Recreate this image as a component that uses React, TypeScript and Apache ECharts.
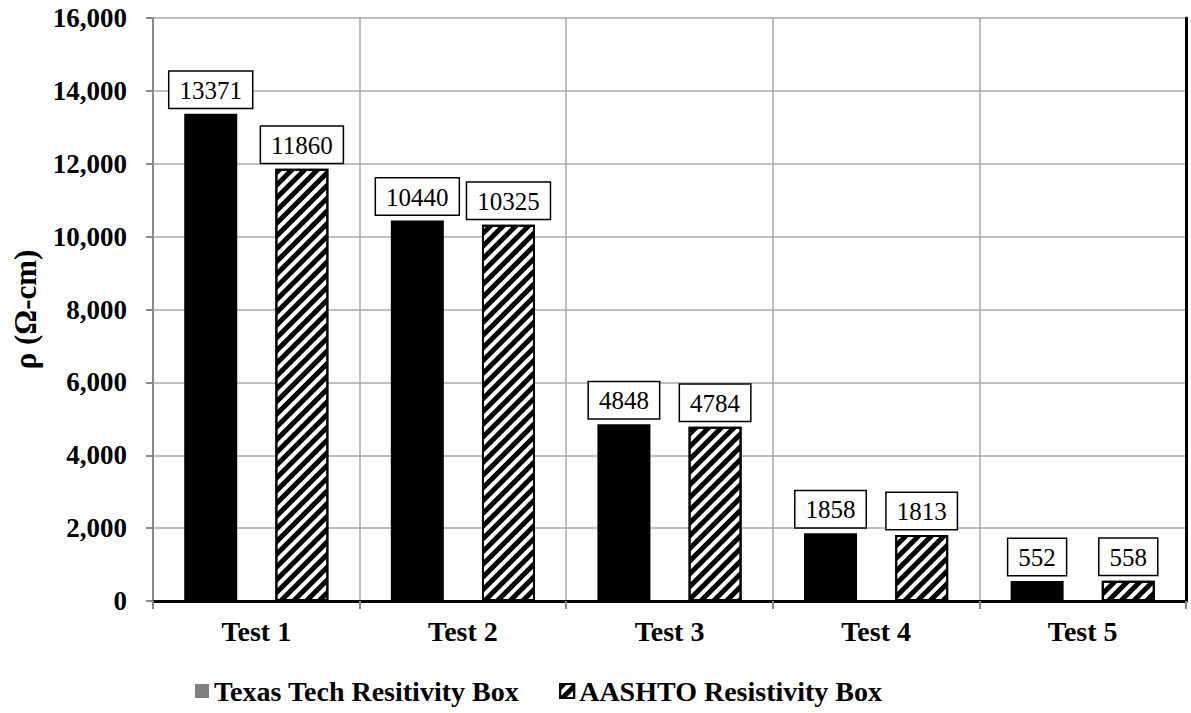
import React, { useEffect, useRef } from "react";
import * as echarts from "echarts";

const categories = ["Test 1", "Test 2", "Test 3", "Test 4", "Test 5"];
const texasTech = [13371, 10440, 4848, 1858, 552];
const aashto = [11860, 10325, 4784, 1813, 558];
const seriesNames = ["Texas Tech Resitivity Box", "AASHTO Resistivity Box"];
const yMin = 0;
const yMax = 16000;
const yInterval = 2000;

const FONT = "Liberation Serif";

export default function App() {
  const ref = useRef<HTMLDivElement>(null);
  useEffect(() => {
    if (!ref.current) return;
    const chart = echarts.init(ref.current, null, { renderer: "svg" });
    const label = {
      show: true,
      position: "top",
      distance: 6,
      fontFamily: FONT,
      fontSize: 25,
      color: "#000",
      backgroundColor: "#fff",
      borderColor: "#000",
      borderWidth: 1.5,
      padding: [6, 10, 5, 10],
      formatter: "{c}",
    };
    chart.setOption({
      animation: false,
      grid: { left: 153, right: 5, top: 18, bottom: 112, containLabel: false },
      xAxis: [
        {
          type: "category",
          data: categories,
          axisLine: { lineStyle: { color: "#888", width: 2 } },
          axisTick: { show: true, length: 8, lineStyle: { color: "#888", width: 2 } },
          splitLine: { show: true, lineStyle: { color: "#aaa", width: 1.5 } },
          axisLabel: { fontFamily: FONT, fontSize: 28, fontWeight: "bold", color: "#000", margin: 16 },
        },
        {
          type: "category",
          data: categories,
          position: "top",
          axisLine: { show: true, lineStyle: { color: "#000", width: 3 } },
          axisTick: { show: false },
          axisLabel: { show: false },
          splitLine: { show: false },
        },
      ],
      yAxis: [
        {
          type: "value",
          min: yMin,
          max: yMax,
          interval: yInterval,
          name: "ρ (Ω-cm)",
          nameLocation: "middle",
          nameGap: 112,
          nameTextStyle: { fontFamily: FONT, fontSize: 31, fontWeight: "bold", color: "#000" },
          axisLine: { show: true, lineStyle: { color: "#888", width: 2 } },
          axisTick: { show: true, length: 7, lineStyle: { color: "#888", width: 2 } },
          splitLine: { show: true, lineStyle: { color: "#aaa", width: 1.5 } },
          axisLabel: {
            fontFamily: FONT,
            fontSize: 27,
            fontWeight: "bold",
            color: "#000",
            margin: 26,
            formatter: (v: number) => v.toLocaleString("en-US"),
          },
        },
        {
          type: "value",
          min: yMin,
          max: yMax,
          interval: yInterval,
          position: "right",
          axisLine: { show: true, lineStyle: { color: "#000", width: 3 } },
          axisTick: { show: false },
          axisLabel: { show: false },
          splitLine: { show: false },
        },
      ],
      legend: {
        top: 672,
        left: 190,
        itemGap: 40,
        itemWidth: 14,
        itemHeight: 14,
        icon: "rect",
        textStyle: { fontFamily: FONT, fontSize: 28, fontWeight: "bold", color: "#000" },
        data: [
          { name: seriesNames[0], itemStyle: { color: "#808080", borderWidth: 0 } },
          { name: seriesNames[1] },
        ],
      },
      series: [
        {
          name: seriesNames[0],
          type: "bar",
          data: texasTech,
          barWidth: 53,
          barGap: "72%",
          itemStyle: { color: "#000" },
          label,
        },
        {
          name: seriesNames[1],
          type: "bar",
          data: aashto,
          barWidth: 53,
          itemStyle: {
            color: "#fff",
            borderColor: "#000",
            borderWidth: 2,
            decal: {
              symbol: "rect",
              symbolSize: 1,
              dashArrayX: [1, 0],
              dashArrayY: [4.5, 4],
              rotation: -Math.PI / 4,
              color: "#000",
            },
          },
          label,
        },
      ],
    });
    return () => chart.dispose();
  }, []);
  return (
    <div
      ref={ref}
      style={{ position: "fixed", left: 0, top: 0, width: 1191, height: 713, background: "#fff" }}
    />
  );
}
